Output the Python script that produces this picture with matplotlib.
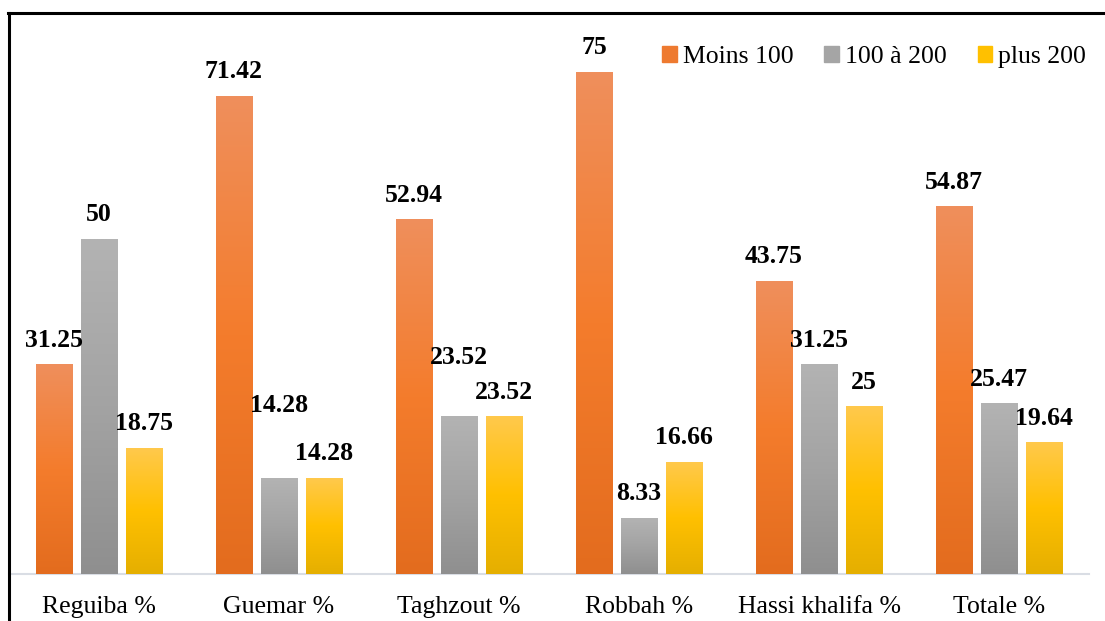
import numpy as np
import matplotlib
matplotlib.use("Agg")
import matplotlib.pyplot as plt
from matplotlib.colors import LinearSegmentedColormap
from matplotlib.lines import Line2D

categories = ["Reguiba %", "Guemar %", "Taghzout %", "Robbah %", "Hassi khalifa %", "Totale %"]
series_names = ["Moins 100", "100 à 200", "plus 200"]
moins_100 = [31.25, 71.42, 52.94, 75, 43.75, 54.87]
de_100_a_200 = [50, 14.28, 23.52, 8.33, 31.25, 25.47]
plus_200 = [18.75, 14.28, 23.52, 16.66, 25, 19.64]
value_labels = [
    ["31.25", "71.42", "52.94", "75", "43.75", "54.87"],
    ["50", "14.28", "23.52", "8.33", "31.25", "25.47"],
    ["18.75", "14.28", "23.52", "16.66", "25", "19.64"],
]

# (series, category) -> extra lift of the label in points
label_nudge = {(1, 1): 35, (1, 2): 25}

# gradient stops bottom -> middle -> top
gradients = [
    ["#E36C1E", "#F47C2C", "#EF8F5C"],
    ["#8F8F8F", "#A3A3A3", "#B3B3B3"],
    ["#E5AF00", "#FFC000", "#FFC94C"],
]
legend_colors = ["#EE7A30", "#A5A5A5", "#FFC000"]

plt.rcParams["font.family"] = ["Liberation Serif", "DejaVu Serif"]

fig = plt.figure(figsize=(11.05, 6.21), dpi=100)
ax = fig.add_axes([9 / 1105, 47 / 621, 1080 / 1105, 552 / 621])

x = np.arange(len(categories))
width = 0.205
offsets = [-0.25, 0.0, 0.25]
all_series = [moins_100, de_100_a_200, plus_200]
grad = np.linspace(0, 1, 256).reshape(-1, 1)

for s, (vals, stops) in enumerate(zip(all_series, gradients)):
    cmap = LinearSegmentedColormap.from_list(f"g{s}", stops)
    bars = ax.bar(x + offsets[s], vals, width, color=stops[1], zorder=2)
    for c, b in enumerate(bars):
        x0, y0 = b.get_x(), b.get_y()
        ax.imshow(grad, extent=[x0, x0 + b.get_width(), y0, y0 + b.get_height()],
                  aspect="auto", cmap=cmap, origin="lower", zorder=3)
        lift = 13 + label_nudge.get((s, c), 0)
        ax.annotate(value_labels[s][c], (b.get_x() + b.get_width() / 2, b.get_height()),
                    xytext=(0, lift), textcoords="offset points",
                    ha="center", va="baseline", fontsize=18.5, fontweight="bold", zorder=4)

ax.set_xlim(-0.5, len(categories) - 0.5)
ax.set_ylim(0, 82.5)
ax.set_xticks(x)
ax.set_xticklabels(categories, fontsize=18.5)
ax.tick_params(axis="x", length=0, pad=16)
ax.set_yticks([])
for side in ["top", "right", "left"]:
    ax.spines[side].set_visible(False)
ax.spines["bottom"].set_color("#D9DDE4")
ax.spines["bottom"].set_linewidth(1.5)

handles = [plt.Rectangle((0, 0), 1, 1, color=c) for c in legend_colors]
fig.legend(handles, series_names, loc="upper right", bbox_to_anchor=(1086 / 1105, 1 - 46 / 621),
           ncol=3, frameon=False, fontsize=18.5, handlelength=0.55, handleheight=0.55,
           handletextpad=0.25, columnspacing=1.2, borderaxespad=0, borderpad=0)

# border lines (left and top) as in the source
fig.add_artist(Line2D([8.5 / 1105, 8.5 / 1105], [0, 1 - 12.5 / 621], color="black", lw=2.2,
                      transform=fig.transFigure))
fig.add_artist(Line2D([7.5 / 1105, 1], [1 - 12.5 / 621, 1 - 12.5 / 621], color="black", lw=2.2,
                      transform=fig.transFigure))

fig.savefig("out.png", dpi=100)
